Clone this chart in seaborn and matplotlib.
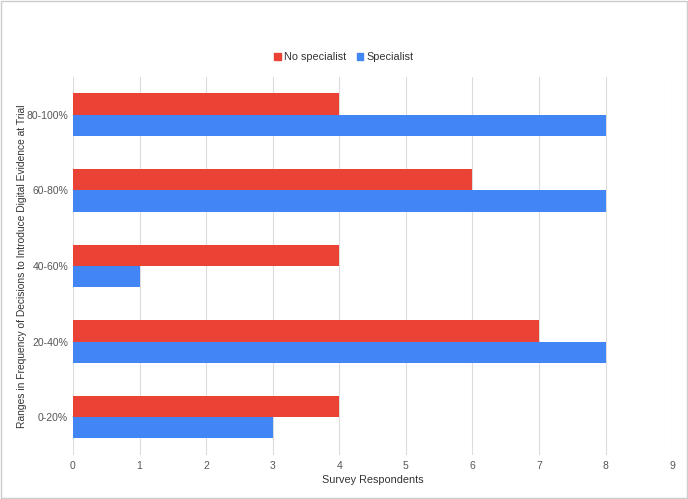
import matplotlib
matplotlib.use("Agg")
import matplotlib.pyplot as plt
import seaborn as sns
import pandas as pd
from matplotlib.patches import Rectangle

categories = ["80-100%", "60-80%", "40-60%", "20-40%", "0-20%"]
no_specialist = [4, 6, 4, 7, 4]
specialist = [8, 8, 1, 8, 3]
series_names = ["No specialist", "Specialist"]
colors = ["#EA4335", "#4285F4"]

df = pd.DataFrame({
    "range": categories * 2,
    "value": no_specialist + specialist,
    "group": [series_names[0]] * len(categories) + [series_names[1]] * len(categories),
})

sns.set_theme(style="white")
plt.rcParams["font.family"] = ["Liberation Sans", "DejaVu Sans"]

fig = plt.figure(figsize=(6.88, 4.99), dpi=100)
ax = fig.add_axes([0.106, 0.088, 0.871, 0.758])

sns.barplot(data=df, x="value", y="range", hue="group", order=categories,
            hue_order=series_names, palette=colors, orient="h", width=0.56,
            saturation=1, ax=ax, legend=False, linewidth=0, edgecolor="none")

ax.set_xlim(0, 9)
ax.set_ylim(4.5, -0.5)
ax.set_xticks(range(0, 10))
ax.grid(axis="x", color="#dcdcdc", linewidth=0.8)
ax.set_axisbelow(True)
for s in ax.spines.values():
    s.set_visible(False)
ax.tick_params(axis="both", length=0, labelsize=7.5, colors="#555555")
ax.tick_params(axis="x", pad=4)
ax.set_xlabel("Survey Respondents", fontsize=7.8, color="#333333", labelpad=3)
ax.set_ylabel("Ranges in Frequency of Decisions to Introduce Digital Evidence at Trial",
              fontsize=7.4, color="#333333")
ax.yaxis.set_label_coords(-0.077, 0.5)

handles = [Rectangle((0, 0), 1, 1, color=c) for c in colors]
fig.legend(handles, series_names, loc="center", bbox_to_anchor=(0.5, 0.886), ncol=2,
           frameon=False, fontsize=7.8, handlelength=0.6, handleheight=0.6,
           handletextpad=0.3, columnspacing=1.0, labelcolor="#333333")

fig.patches.append(Rectangle((0.002, 0.002), 0.996, 0.996, transform=fig.transFigure,
                             fill=False, edgecolor="#cccccc", linewidth=1))

fig.savefig("out.png", dpi=100)
